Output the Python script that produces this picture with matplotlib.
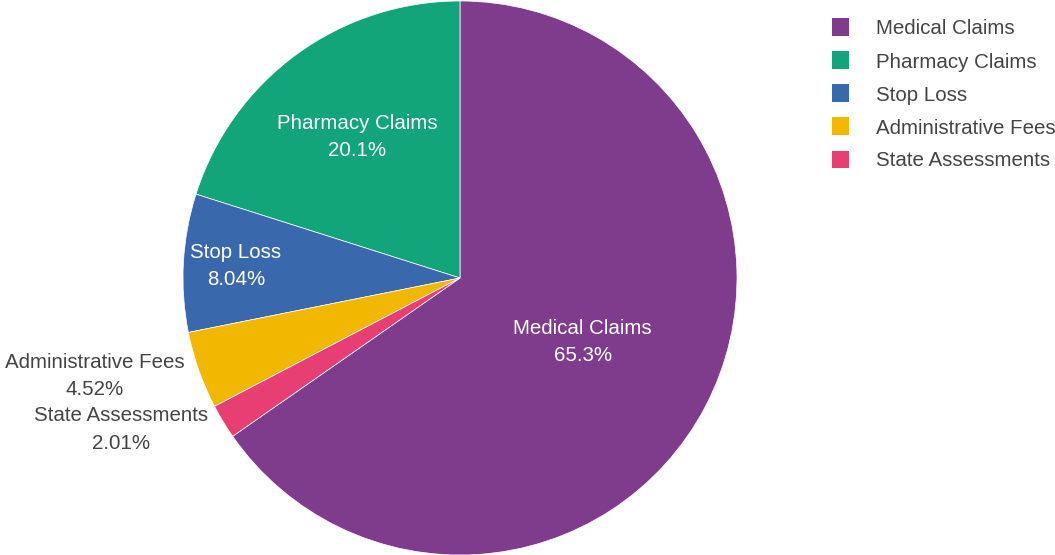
import numpy as np
import matplotlib
matplotlib.use("Agg")
import matplotlib.pyplot as plt
from matplotlib.patches import Rectangle

# ---- data ----
categories = ["Medical Claims", "Pharmacy Claims", "Stop Loss",
              "Administrative Fees", "State Assessments"]
values = [65.3, 20.1, 8.04, 4.52, 2.01]
colors = ["#7F3C8D", "#11A579", "#3969AC", "#F2B701", "#E73F74"]

# ---- layout / style ----
W, H, DPI = 1055, 555, 100
CX, CY, R = 460, 278, 277          # pie centre / radius in pixels (from top-left)
FONT = "Liberation Sans"
FS = 14.8
LS = 1.55
TXT_DARK = "#444444"
inside = {0: 0.50, 1: 0.63, 2: 0.81}           # radial fraction for inside labels
outside = {3: (195.0, 1.365), 4: (204.1, 1.34)}  # (angle deg, radius) for outside labels

plt.rcParams["font.family"] = [FONT, "DejaVu Sans"]

fig = plt.figure(figsize=(W / DPI, H / DPI), dpi=DPI)
ax = fig.add_axes([0, 0, 1, 1])

total = sum(values)
fracs = [v / total for v in values]
start = 90 - 360 * fracs[0]
wedges, _ = ax.pie(values, colors=colors, startangle=start, counterclock=True,
                   radius=1, center=(0, 0), frame=True,
                   wedgeprops=dict(edgecolor="white", linewidth=0.5))
ax.set_xlim(-CX / R, (W - CX) / R)
ax.set_ylim(-(H - CY) / R, CY / R)
ax.set_aspect("auto")
ax.axis("off")

for i, w in enumerate(wedges):
    pct = "{:.3g}%".format(fracs[i] * 100)
    txt = f"{categories[i]}\n{pct}"
    mid = np.deg2rad((w.theta1 + w.theta2) / 2)
    if i in inside:
        r = inside[i]
        ax.text(r * np.cos(mid), r * np.sin(mid), txt, ha="center", va="center",
                color="white", fontsize=FS, linespacing=LS)
    else:
        a, r = outside[i]
        a = np.deg2rad(a)
        ax.text(r * np.cos(a), r * np.sin(a), txt, ha="center", va="center",
                color=TXT_DARK, fontsize=FS, linespacing=LS)

# ---- legend (drawn in figure pixel space) ----
sq = 17
lx, ly0, dy = 832, 27, 33
tx = 876
for i, (cat, col) in enumerate(zip(categories, colors)):
    yc = ly0 + i * dy
    fig.patches.append(Rectangle(((lx) / W, 1 - (yc + sq / 2) / H), sq / W, sq / H,
                                 transform=fig.transFigure, facecolor=col,
                                 edgecolor="none"))
    fig.text(tx / W, 1 - yc / H, cat, ha="left", va="center_baseline",
             color=TXT_DARK, fontsize=FS)

fig.savefig("out.png", dpi=DPI, facecolor="white")
